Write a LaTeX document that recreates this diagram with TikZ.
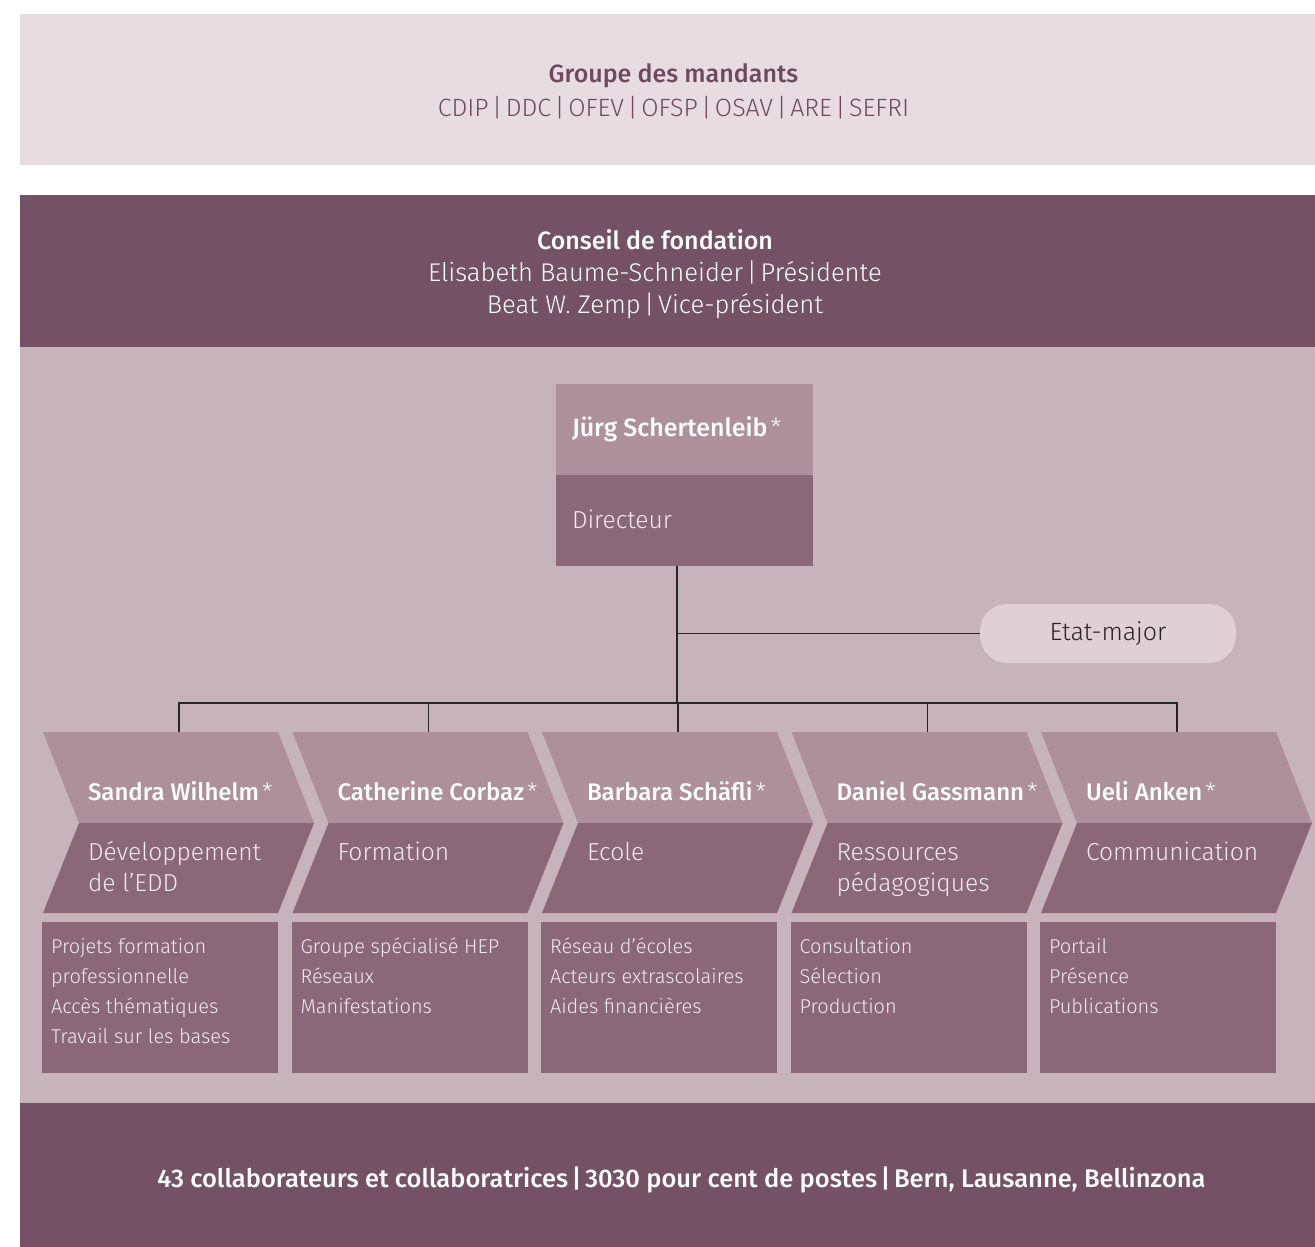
\documentclass[tikz,border=0pt]{standalone}
\usepackage{fontspec}
\setmainfont{Fira Sans}[UprightFont=* Light, BoldFont=* Medium]
\definecolor{topband}{HTML}{E7DCE0}
\definecolor{council}{HTML}{745165}
\definecolor{midbg}{HTML}{C7B3BA}
\definecolor{lightchev}{HTML}{AE909A}
\definecolor{darkbox}{HTML}{8B6877}
\definecolor{etatfill}{HTML}{E0D0D6}
\definecolor{toptext}{HTML}{6E4A5F}
\definecolor{roletext}{HTML}{F3EAEE}
\newcommand\mlines[1]{\parbox[t]{260pt}{\raggedright #1}}
\newcommand\astmark{\hspace{3pt}{\mdseries *}}
\newcommand\sep{\hspace{3.5pt}|\hspace{3.5pt}}
\begin{document}
\begin{tikzpicture}[x=1pt,y=-1pt,
  txt/.style={inner sep=0pt,outer sep=0pt},
  bigtxt/.style={txt,font=\fontsize{25}{32}\selectfont},
  nametxt/.style={txt,anchor=base west,text=white,font=\fontsize{24}{31}\bfseries},
  roletxt/.style={txt,anchor=base west,text=roletext,font=\fontsize{24.6}{31}\selectfont},
  itemtxt/.style={txt,anchor=base west,text=roletext,font=\fontsize{20}{30}\selectfont},
  conn/.style={line width=1.2pt,black!85},
  boxbg/.style={fill=darkbox,draw=none,inner sep=0pt},
]
\useasboundingbox (0,0) rectangle (1315,1247);
\fill[white] (0,0) rectangle (1315,1247);
\fill[topband] (20,14) rectangle (1315,165);
\fill[council] (20,195) rectangle (1315,347);
\fill[midbg] (20,347) rectangle (1315,1103);
\fill[council] (20,1103) rectangle (1315,1247);

% top band
\node[bigtxt,anchor=base,text=toptext] (grp) at (673.5,83) {\bfseries Groupe des mandants};
\node[bigtxt,anchor=base,text=toptext] (grpl) at (673.5,117) {CDIP\sep DDC\sep OFEV\sep OFSP\sep OSAV\sep ARE\sep SEFRI};

% council
\node[bigtxt,anchor=base,text=white] (cf) at (655,249) {\bfseries Conseil de fondation};
\node[bigtxt,anchor=base,text=white,font=\fontsize{25.6}{32}\selectfont] (cf1) at (655,281) {Elisabeth Baume-Schneider\sep Présidente};
\node[bigtxt,anchor=base,text=white,font=\fontsize{25.6}{32}\selectfont] (cf2) at (655,313) {Beat W. Zemp\sep Vice-président};

% director
\node[fill=lightchev,inner sep=0pt,anchor=north west,minimum width=257pt,minimum height=91pt] (dirname) at (556,384) {};
\node[fill=darkbox,inner sep=0pt,anchor=north west,minimum width=257pt,minimum height=91pt] (dirrole) at (556,475) {};
\node[nametxt,font=\fontsize{25}{31}\bfseries] (dirn) at (572,436) {Jürg Schertenleib\astmark};
\node[roletxt] (dirr) at (572,528) {Directeur};

% etat-major
\node[fill=etatfill,rounded corners=27pt,minimum width=256pt,minimum height=59pt,inner sep=0pt,
      text=black!85,font=\fontsize{25}{30}\selectfont] (etat) at (1108,633.5) {Etat-major};

% connectors
\coordinate (dtop) at (677,566);
\coordinate (hub) at (677,633.5);
\coordinate (bar) at (677,703);
\draw[conn] (dtop) -- (bar);
\draw[conn] (hub) -- (etat.west);

\foreach \i/\nm/\role/\items in {
  1/{Sandra Wilhelm}/{Développement\\de l’EDD}/{Projets formation\\professionnelle\\Accès thématiques\\Travail sur les bases},
  2/{Catherine Corbaz}/{Formation}/{Groupe spécialisé HEP\\Réseaux\\Manifestations},
  3/{Barbara Schäfli}/{Ecole}/{Réseau d’écoles\\Acteurs extrascolaires\\Aides financières},
  4/{Daniel Gassmann}/{Ressources\\pédagogiques}/{Consultation\\Sélection\\Production},
  5/{Ueli Anken}/{Communication}/{Portail\\Présence\\Publications}}{
  \pgfmathsetmacro{\L}{43+249.5*(\i-1)}
  \fill[lightchev] (\L,732) -- (\L+235,732) -- (\L+271,823) -- (\L+36,823) -- cycle;
  \fill[darkbox] (\L+36,823) -- (\L+271,823) -- (\L+235,913) -- (\L,913) -- cycle;
  \node[boxbg,anchor=north west,minimum width=236pt,minimum height=151pt] (box\i) at (\L-1,922) {};
  \coordinate (t\i) at (\L+136,732);
  \node[nametxt] (name\i) at (\L+45,800) {\nm\astmark};
  \node[roletxt] (role\i) at (\L+45,860) {\mlines{\role}};
  \node[itemtxt] (items\i) at (\L+8,953) {\mlines{\items}};
}
\draw[conn] (t1) -- (t1 |- bar) -- (t5 |- bar) -- (t5);
\foreach \i in {2,3,4}{\draw[conn] (t\i) -- (t\i |- bar);}

% bottom
\node[txt,anchor=base,text=white,font=\fontsize{25.5}{30}\bfseries] (foot) at (681.5,1187)
  {43 collaborateurs et collaboratrices\sep 3030 pour cent de postes\sep Bern, Lausanne, Bellinzona};
\end{tikzpicture}
\end{document}
